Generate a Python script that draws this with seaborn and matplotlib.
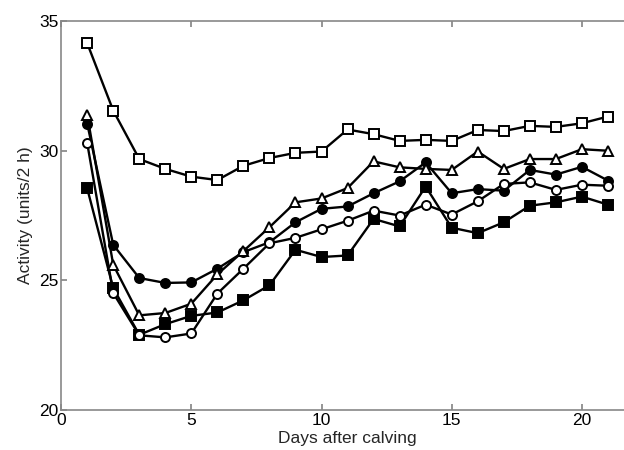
import matplotlib
matplotlib.use("Agg")
import matplotlib.pyplot as plt
import seaborn as sns
import pandas as pd

days = list(range(1, 22))

open_square = [34.15, 31.55, 29.68, 29.30, 29.00, 28.87, 29.42, 29.72, 29.92, 29.97, 30.82,
               30.64, 30.38, 30.42, 30.38, 30.80, 30.76, 30.96, 30.92, 31.06, 31.32]
open_triangle = [31.38, 25.60, 23.65, 23.74, 24.10, 25.23, 26.13, 27.05, 28.01, 28.16, 28.56,
                 29.59, 29.36, 29.30, 29.26, 29.97, 29.30, 29.68, 29.68, 30.06, 30.00]
filled_circle = [31.05, 26.37, 25.09, 24.90, 24.92, 25.45, 26.09, 26.47, 27.24, 27.76, 27.85,
                 28.36, 28.82, 29.55, 28.36, 28.52, 28.46, 29.26, 29.08, 29.38, 28.85]
filled_square = [28.55, 24.70, 22.90, 23.31, 23.63, 23.76, 24.23, 24.81, 26.18, 25.90, 25.96,
                 27.37, 27.08, 28.62, 27.03, 26.82, 27.24, 27.88, 28.01, 28.23, 27.92]
open_circle = [30.30, 24.51, 22.88, 22.80, 22.95, 24.49, 25.45, 26.43, 26.64, 26.97, 27.30,
               27.69, 27.50, 27.92, 27.54, 28.05, 28.72, 28.78, 28.49, 28.69, 28.65]

sns.set_theme(style="white")
plt.rcParams["font.family"] = ["Liberation Sans", "DejaVu Sans"]

fig = plt.figure(figsize=(6.24, 4.5), dpi=100)
ax = fig.add_axes([0.098, 0.089, 0.918, 0.864])

# (values, marker, face colour) in drawing order
series = [
    (filled_square, "s", "black"),
    (filled_circle, "o", "black"),
    (open_circle, "o", "white"),
    (open_triangle, "^", "white"),
    (open_square, "s", "white"),
]

for vals, mk, fc in series:
    df = pd.DataFrame({"day": days, "activity": vals})
    sns.lineplot(data=df, x="day", y="activity", ax=ax, color="black", linewidth=1.7,
                 marker=mk, markersize=6.5, markerfacecolor=fc, markeredgecolor="black",
                 markeredgewidth=1.4)

ax.set_xlim(0, 22)
ax.set_ylim(20, 35)
ax.set_xticks([0, 5, 10, 15, 20])
ax.set_yticks([20, 25, 30, 35])
ax.tick_params(direction="in", length=4, color="#888888", labelsize=12.5, pad=2,
               top=True, bottom=True, left=True, labelcolor="black")
for s in ["left", "bottom", "top"]:
    ax.spines[s].set_color("#888888")
    ax.spines[s].set_linewidth(1.2)
ax.spines["right"].set_visible(False)

ax.set_xlabel("Days after calving", fontsize=12.5, labelpad=2)
ax.set_ylabel("Activity (units/2 h)", fontsize=12.5, labelpad=4)

fig.savefig("out.png", dpi=100)
